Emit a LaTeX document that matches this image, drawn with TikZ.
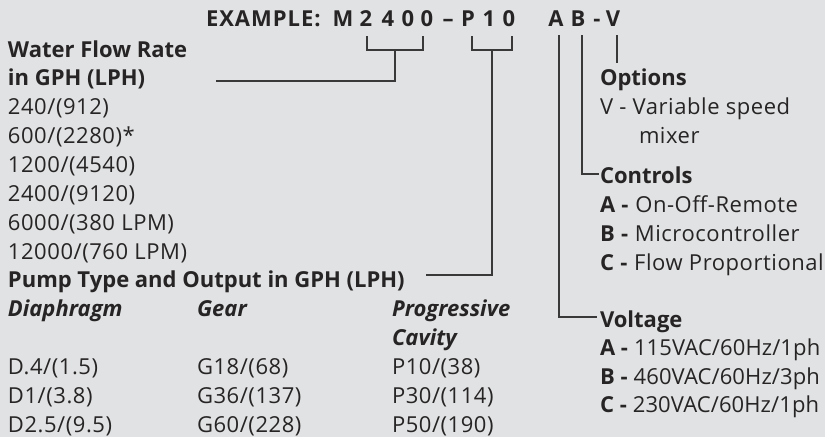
\documentclass[tikz,border=0pt]{standalone}
\usepackage{fontspec}
\setmainfont{Open Sans}
\definecolor{bgc}{HTML}{E1E2E3}
\definecolor{txc}{HTML}{262425}
\definecolor{lnc}{HTML}{3A393A}
\begin{document}
\begin{tikzpicture}[x=1pt,y=-1pt,
  txt/.style={anchor=base west,inner sep=0pt,outer sep=0pt,text=txc,font=\fontsize{22}{26}\selectfont\addfontfeatures{LetterSpace=2.5}},
  tight/.style={txt,font=\fontsize{22}{26}\selectfont\addfontfeatures{LetterSpace=0.5}},
  hdr/.style={txt,font=\fontsize{22}{26}\selectfont\bfseries},
  ital/.style={txt,font=\fontsize{22}{26}\selectfont\bfseries\itshape},
  ch/.style={anchor=base,inner sep=0pt,outer sep=0pt,text=txc,font=\fontsize{22}{26}\selectfont\bfseries},
  conn/.style={draw=lnc,line width=1.3pt}]
\fill[bgc] (0,0) rectangle (825,437);
\useasboundingbox (0,0) rectangle (825,437);
% example line
\node[hdr,font=\fontsize{22}{26}\selectfont\bfseries\addfontfeatures{LetterSpace=4.5}] (ex) at (206,26) {EXAMPLE:};
\node[ch] (cM) at (343,26) {M};
\node[ch] (c2) at (366,26) {2};
\node[ch] (c4) at (388,26) {4};
\node[ch] (c0a) at (408,26) {0};
\node[ch] (c0b) at (427,26) {0};
\node[ch] (cd) at (448,26) {–};
\node[ch] (cP) at (468,26) {P};
\node[ch] (c1) at (489,26) {1};
\node[ch] (c0c) at (509,26) {0};
\node[ch] (cA) at (556,26) {A};
\node[ch] (cB) at (578,26) {B};
\node[ch] (cdd) at (597,26) {-};
\node[ch] (cV) at (613,26) {V};
% left column
\node[hdr] (wfr) at (8,57) {Water Flow Rate};
\node[hdr] (gph) at (8,85.8) {in GPH (LPH)};
\node[txt] (f1) at (8,114.7) {240/(912)};
\node[txt] (f2) at (8,143.5) {600/(2280)*};
\node[txt] (f3) at (8,172.4) {1200/(4540)};
\node[txt] (f4) at (8,201.2) {2400/(9120)};
\node[txt] (f5) at (8,230.1) {6000/(380 LPM)};
\node[txt] (f6) at (8,259) {12000/(760 LPM)};
\node[hdr] (pump) at (8,287.8) {Pump Type and Output in GPH (LPH)};
\node[ital] (dia) at (8,316.6) {Diaphragm};
\node[ital] (gear) at (197,316.6) {Gear};
\node[ital] (prog) at (392,316.6) {Progressive};
\node[ital] (cav) at (392,345.5) {Cavity};
\node[txt] (d1) at (8,374.4) {D.4/(1.5)};
\node[txt] (d2) at (8,403.2) {D1/(3.8)};
\node[txt] (d3) at (8,432) {D2.5/(9.5)};
\node[txt] (g1) at (197,374.4) {G18/(68)};
\node[txt] (g2) at (197,403.2) {G36/(137)};
\node[txt] (g3) at (197,432) {G60/(228)};
\node[txt] (p1) at (392,374.4) {P10/(38)};
\node[txt] (p2) at (392,403.2) {P30/(114)};
\node[txt] (p3) at (392,432) {P50/(190)};
% right column
\node[hdr] (opt) at (600,85) {Options};
\node[txt] (ov) at (600,114) {V - Variable speed};
\node[txt] (om) at (639,143) {mixer};
\node[hdr] (ctl) at (600,183) {Controls};
\node[txt] (ca) at (600,212) {\textbf{A -} On-Off-Remote};
\node[txt] (cb) at (600,241) {\textbf{B -} Microcontroller};
\node[txt] (cc) at (600,270) {\textbf{C -} Flow Proportional};
\node[hdr] (vol) at (600,327) {Voltage};
\node[tight] (va) at (600,355) {\textbf{A -} 115VAC/60Hz/1ph};
\node[tight] (vb) at (600,384) {\textbf{B -} 460VAC/60Hz/3ph};
\node[tight] (vc) at (600,412) {\textbf{C -} 230VAC/60Hz/1ph};
% connector coordinates
\coordinate (b1l) at (367,36);
\coordinate (b1r) at (423,36);
\coordinate (b1m) at (395,50);
\coordinate (b1e) at (216,81);
\coordinate (b2l) at (472,36);
\coordinate (b2r) at (512,36);
\coordinate (b2m) at (492,50);
\coordinate (b2e) at (426,275);
\coordinate (aTop) at (559,35);
\coordinate (aEnd) at (597,317);
\coordinate (bTop) at (582,35);
\coordinate (bEnd) at (599,174);
\coordinate (vTop) at (617,35);
\coordinate (vEnd) at (617,63);
% connectors
\draw[conn] (b1l) |- (b1m) -| (b1r);
\draw[conn] (b1m) |- (b1e);
\draw[conn] (b2l) |- (b2m) -| (b2r);
\draw[conn] (b2m) |- (b2e);
\draw[conn] (aTop) |- (aEnd);
\draw[conn] (bTop) |- (bEnd);
\draw[conn] (vTop) -- (vEnd);
\end{tikzpicture}
\end{document}
